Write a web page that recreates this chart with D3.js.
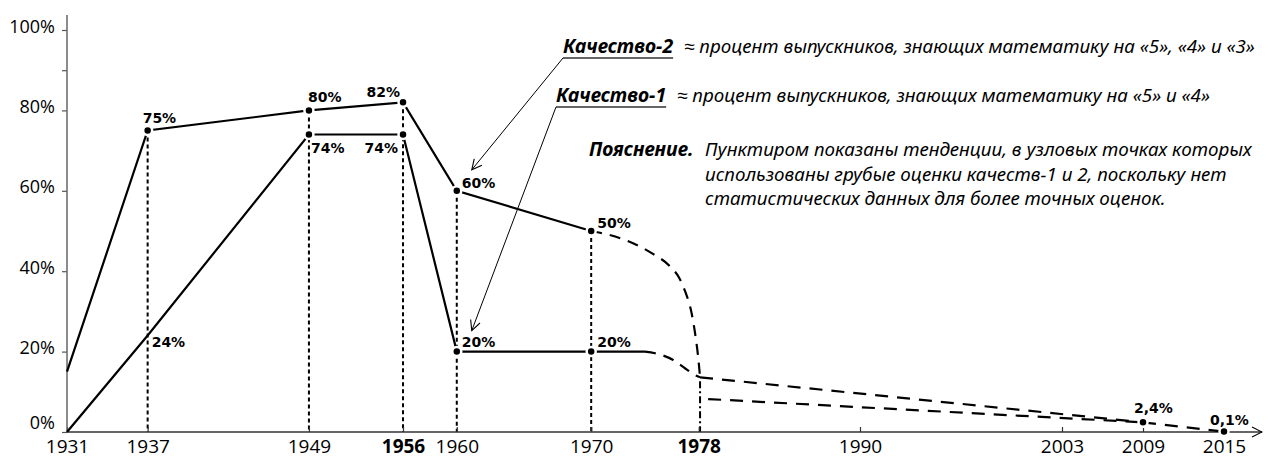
<!DOCTYPE html>
<html>
<head>
<meta charset="utf-8">
<script src="https://cdn.jsdelivr.net/npm/d3@7"></script>
<style>
body { margin: 0; background: #fff; }
svg { display: block; }
</style>
</head>
<body>
<svg width="1268" height="459"></svg>
<script>
// axis ticks
var years = [1931, 1937, 1949, 1956, 1960, 1970, 1978, 1990, 2003, 2009, 2015];
var boldYears = [1956, 1978];
var yTicks = [0, 20, 40, 60, 80, 90, 100];
var yLabels = ["0%", "20%", "40%", "60%", "80%", "", "100%"];

// Качество-2 (upper line)
var q2Solid = [[1931, 15], [1937, 75], [1949, 80], [1956, 82], [1960, 60], [1970, 50]];
var q2Trend = [[1970, 50], [1972.5, 47.8], [1974.5, 44.5], [1975.9, 41.1], [1976.5, 38.6], [1977, 34.9],
               [1977.5, 29.1], [1977.75, 24.1], [1977.97, 18.3], [1978.1, 13.6]];
var q2Tail = [[1978.1, 13.6], [2009, 2.4]];

// Качество-1 (lower line)
var q1Solid = [[1931, 0], [1937, 24], [1949, 74], [1956, 74], [1960, 20], [1970, 20], [1974, 20]];
var q1Trend = [[1974, 20], [1974.75, 19.6], [1976.1, 17.9], [1977, 15.8], [1977.7, 14.2], [1978.1, 13.6]];
var q1Tail = [[1978.7, 8.2], [2009, 2.4]];

var endTail = [[2009, 2.4], [2015, 0.1]];

// dots and their value labels
var dots = [[1937, 75], [1949, 80], [1956, 82], [1960, 60], [1970, 50],
            [1949, 74], [1956, 74], [1960, 20], [1970, 20], [2009, 2.4], [2015, 0.1]];
var labels = [[1937, 75, "75%"], [1949, 80, "80%"], [1956, 82, "82%"], [1960, 60, "60%"], [1970, 50, "50%"],
              [1937, 24, "24%"], [1949, 74, "74%"], [1956, 74, "74%"], [1960, 20, "20%"], [1970, 20, "20%"],
              [2009, 2.4, "2,4%"], [2015, 0.1, "0,1%"]];
// vertical guides: year, top value
var guides = [[1937, 75], [1949, 80], [1956, 82], [1960, 60], [1970, 50]];
var guide1978 = [1978.1, 13.6];

var svg = d3.select("svg");

// the year axis is not uniform in the original (1990-2003 is stretched)
var x = d3.scaleLinear()
    .domain([1931, 1990, 2003, 2015])
    .range([67, 860, 1062, 1224]);
var y = d3.scaleLinear().domain([0, 100]).range([432, 30]);

var line = d3.line().x(function(d) { return x(d[0]); }).y(function(d) { return y(d[1]); });
var curved = d3.line().curve(d3.curveMonotoneX)
    .x(function(d) { return x(d[0]); }).y(function(d) { return y(d[1]); });

var defs = svg.append("defs");
defs.append("marker")
    .attr("id", "arrow")
    .attr("viewBox", "0 0 12 12")
    .attr("refX", 11).attr("refY", 6)
    .attr("markerWidth", 12).attr("markerHeight", 12)
    .attr("markerUnits", "userSpaceOnUse")
    .attr("orient", "auto")
    .append("path")
    .attr("d", "M1,1 L11,6 L1,11")
    .attr("fill", "none")
    .attr("stroke", "#000")
    .attr("stroke-width", 1.1);

// vertical dotted guides
svg.selectAll(".guide")
    .data(guides)
    .enter().append("line")
    .attr("class", "guide")
    .attr("x1", function(d) { return x(d[0]); })
    .attr("x2", function(d) { return x(d[0]); })
    .attr("y1", function(d) { return y(d[1]); })
    .attr("y2", y(0))
    .attr("stroke", "#000")
    .attr("stroke-width", 2)
    .attr("stroke-dasharray", "4,3");

svg.append("line")
    .attr("x1", x(guide1978[0])).attr("x2", x(guide1978[0]))
    .attr("y1", y(guide1978[1]) + 4).attr("y2", y(0))
    .attr("stroke", "#000")
    .attr("stroke-width", 2)
    .attr("stroke-dasharray", "7,3,2,3");

// axes
var xAxis = svg.append("g")
    .attr("transform", "translate(0," + y(0) + ")")
    .call(d3.axisBottom(x).tickValues(years).tickSizeInner(-5).tickSizeOuter(0).tickFormat(d3.format("d")));
xAxis.select(".domain").remove();
xAxis.selectAll(".tick line").attr("stroke", "#333").attr("stroke-width", 1.2);
xAxis.selectAll(".tick text")
    .attr("y", 21).attr("dy", 0)
    .attr("fill", "#000")
    .style("font-family", "'Open Sans', sans-serif")
    .style("font-size", "19px")
    .style("font-weight", function(d) { return boldYears.indexOf(d) >= 0 ? "bold" : "normal"; });

svg.append("line")
    .attr("x1", x(1931)).attr("x2", 1262)
    .attr("y1", y(0)).attr("y2", y(0))
    .attr("stroke", "#333").attr("stroke-width", 1.4)
    .attr("marker-end", "url(#arrow)");

var yAxis = svg.append("g")
    .attr("transform", "translate(" + x(1931) + ",0)")
    .call(d3.axisLeft(y).tickValues(yTicks).tickSizeInner(5).tickSizeOuter(0).tickPadding(7)
        .tickFormat(function(d, i) { return yLabels[i]; }));
yAxis.select(".domain").remove();
yAxis.selectAll(".tick line").attr("stroke", "#555").attr("stroke-width", 1.2);
yAxis.selectAll(".tick text")
    .attr("dy", function(d) { return d === 0 ? "-0.2em" : "0.12em"; })
    .attr("fill", "#000")
    .style("font-family", "'Open Sans', sans-serif")
    .style("font-size", "18px");

svg.append("line")
    .attr("x1", x(1931)).attr("x2", x(1931))
    .attr("y1", 15).attr("y2", y(0))
    .attr("stroke", "#666").attr("stroke-width", 1.5);

// series lines
[q2Solid, q1Solid].forEach(function(s) {
    svg.append("path").attr("d", line(s))
        .attr("fill", "none").attr("stroke", "#000").attr("stroke-width", 2.2);
});
[q2Trend, q1Trend].forEach(function(s) {
    svg.append("path").attr("d", curved(s))
        .attr("fill", "none").attr("stroke", "#000").attr("stroke-width", 2.2)
        .attr("stroke-dasharray", "11,8");
});
[q2Tail, q1Tail, endTail].forEach(function(s) {
    svg.append("path").attr("d", line(s))
        .attr("fill", "none").attr("stroke", "#000").attr("stroke-width", 2.2)
        .attr("stroke-dasharray", "13,9");
});

// dots
svg.selectAll(".dot")
    .data(dots)
    .enter().append("circle")
    .attr("class", "dot")
    .attr("cx", function(d) { return x(d[0]); })
    .attr("cy", function(d) { return y(d[1]); })
    .attr("r", 4.5)
    .attr("fill", "#000")
    .attr("stroke", "#fff")
    .attr("stroke-width", 2.5);

// label placement, same order as labels
var place = [
    ["start", -5, -7.5], ["start", -1, -8], ["end", -3, -5.5], ["start", 5, -3], ["start", 6, -3],
    ["start", 4, 11.5], ["start", 2, 18.5], ["end", -5, 18.5], ["start", 5, -4.6], ["start", 6, -4.6],
    ["start", -9, -9], ["start", -14, -7]
];
svg.selectAll(".val")
    .data(labels)
    .enter().append("text")
    .attr("class", "val")
    .attr("x", function(d, i) { return x(d[0]) + place[i][1]; })
    .attr("y", function(d, i) { return y(d[1]) + place[i][2]; })
    .attr("text-anchor", function(d, i) { return place[i][0]; })
    .style("font-family", "'DejaVu Sans', sans-serif")
    .style("font-weight", "bold")
    .style("font-size", "14px")
    .text(function(d) { return d[2]; });

// legend notes with leader arrows
var notes = [
    { name: "Качество-2", text: "≈ процент выпускников, знающих математику на «5», «4» и «3»", x: 563, y: 53, target: [1960, 60] },
    { name: "Качество-1", text: "≈ процент выпускников, знающих математику на «5» и «4»", x: 556, y: 102, target: [1960, 20] }
];
notes.forEach(function(n) {
    var t = svg.append("text")
        .attr("x", n.x).attr("y", n.y)
        .style("font-family", "'Noto Sans', sans-serif")
        .style("font-style", "italic")
        .style("font-weight", "bold")
        .style("font-size", "19.5px")
        .text(n.name);
    var w = t.node().getComputedTextLength();
    svg.append("line")
        .attr("x1", n.x).attr("x2", n.x + w)
        .attr("y1", n.y + 5).attr("y2", n.y + 5)
        .attr("stroke", "#333").attr("stroke-width", 1.6);
    svg.append("text")
        .attr("x", n.x + w + 11).attr("y", n.y)
        .style("font-family", "'Noto Sans', sans-serif")
        .style("font-style", "italic")
        .style("font-size", "18.8px")
        .text(n.text);
    svg.append("line")
        .attr("x1", n.x).attr("y1", n.y + 5)
        .attr("x2", x(n.target[0]) + 15).attr("y2", y(n.target[1]) - 21)
        .attr("stroke", "#000").attr("stroke-width", 1)
        .attr("marker-end", "url(#arrow)");
});

var noteLines = [
    "Пунктиром показаны тенденции, в узловых точках которых",
    "использованы грубые оценки качеств-1 и 2, поскольку нет",
    "статистических данных для более точных оценок."
];
svg.append("text")
    .attr("x", 589).attr("y", 156)
    .style("font-family", "'Noto Sans', sans-serif")
    .style("font-style", "italic")
    .style("font-weight", "bold")
    .style("font-size", "19.5px")
    .text("Пояснение.");
svg.append("text")
    .attr("y", 156)
    .style("font-family", "'Noto Sans', sans-serif")
    .style("font-style", "italic")
    .style("font-size", "18.8px")
    .selectAll("tspan")
    .data(noteLines)
    .enter().append("tspan")
    .attr("x", 705)
    .attr("dy", function(d, i) { return i === 0 ? 0 : 24.5; })
    .text(function(d) { return d; });
</script>
</body>
</html>
